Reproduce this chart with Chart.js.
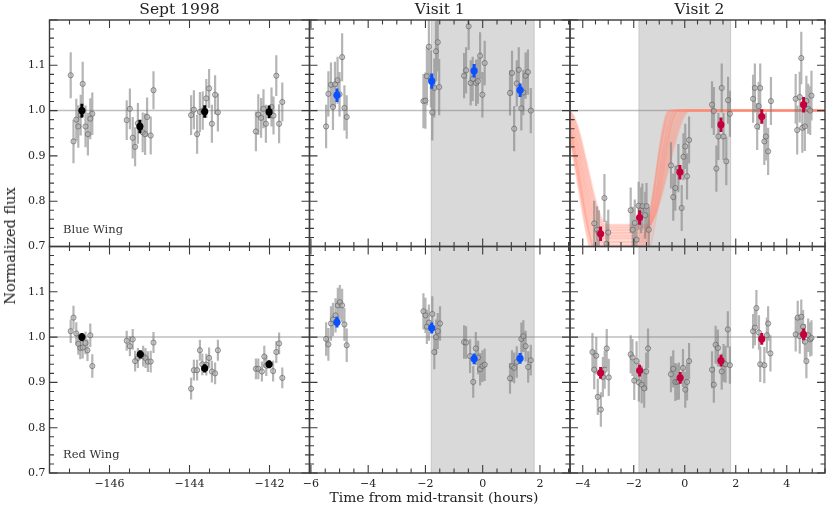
<!DOCTYPE html>
<html>
<head>
<meta charset="utf-8">
<script src="https://cdn.jsdelivr.net/npm/chart.js@4.4.1/dist/chart.umd.min.js"></script>
<style>
  body { margin: 0; background: #fff; }
  #fig { position: relative; width: 830px; height: 509px; font-family: "DejaVu Serif", serif; color: #222; }
  #fig canvas { position: absolute; left: 0; top: 0; }
  .txt { position: absolute; white-space: nowrap; }
  .title { top: 0; height: 18px; line-height: 18px; text-align: center; font-size: 15.5px; }
  .wing { font-size: 11.5px; color: #333; }
</style>
</head>
<body>
<div id="fig">
  <canvas id="c0" width="830" height="509"></canvas>
  <canvas id="c1" width="830" height="509"></canvas>
  <canvas id="c2" width="830" height="509"></canvas>
  <canvas id="c3" width="830" height="509"></canvas>
  <canvas id="c4" width="830" height="509"></canvas>
  <canvas id="c5" width="830" height="509"></canvas>
  <div class="txt title" style="left:49.5px;width:260px">Sept 1998</div>
  <div class="txt title" style="left:309.5px;width:260.5px">Visit 1</div>
  <div class="txt title" style="left:570px;width:259px">Visit 2</div>
  <div class="txt wing" style="left:63px;top:222px">Blue Wing</div>
  <div class="txt wing" style="left:63px;top:447px">Red Wing</div>
  <div class="txt" style="left:10px;top:246px;font-size:14.5px;transform:translate(-50%,-50%) rotate(-90deg)">Normalized flux</div>
  <div class="txt" style="left:434px;top:497px;font-size:13.8px;transform:translate(-50%,-50%)">Time from mid-transit (hours)</div>
</div>
<script>
// ---- Sept 1998, blue wing ----
const sepBlueX = [-146.97, -146.90, -146.83, -146.78, -146.72, -146.67, -146.60, -146.54, -146.48, -146.43,
  -145.57, -145.49, -145.42, -145.36, -145.29, -145.17, -145.11, -145.06, -144.97, -144.90,
  -143.96, -143.89, -143.81, -143.74, -143.67, -143.58, -143.51, -143.44, -143.36, -143.29,
  -142.34, -142.28, -142.21, -142.15, -142.09, -141.95, -141.90, -141.83, -141.76, -141.68];
const sepBlueY = [1.078, 0.932, 0.980, 0.965, 0.990, 1.059, 0.965, 0.948, 0.982, 0.993,
  0.979, 1.004, 0.940, 0.920, 0.972, 0.952, 0.948, 0.986, 0.945, 1.045,
  0.990, 1.002, 0.948, 0.997, 1.000, 1.027, 1.049, 0.971, 1.035, 0.996,
  0.954, 0.991, 0.984, 1.004, 0.971, 1.008, 0.989, 1.077, 0.971, 1.019];
const sepBlueErr = [0.051, 0.048, 0.046, 0.047, 0.045, 0.049, 0.046, 0.047, 0.045, 0.047,
  0.044, 0.045, 0.046, 0.043, 0.045, 0.044, 0.046, 0.043, 0.042, 0.042,
  0.044, 0.043, 0.043, 0.044, 0.042, 0.043, 0.043, 0.042, 0.043, 0.042,
  0.044, 0.045, 0.044, 0.043, 0.042, 0.043, 0.042, 0.045, 0.043, 0.043];
const sepBlueBinX = [-146.69, -145.24, -143.62, -142.01];
const sepBlueBinY = [1.000, 0.965, 0.998, 0.997];
const sepBlueBinErr = [0.015, 0.015, 0.014, 0.014];

// ---- Sept 1998, red wing ----
const sepRedX = [-146.97, -146.90, -146.83, -146.78, -146.73, -146.67, -146.60, -146.55, -146.48, -146.43,
  -145.57, -145.49, -145.42, -145.36, -145.29, -145.16, -145.10, -145.04, -144.97, -144.90,
  -143.96, -143.89, -143.81, -143.74, -143.68, -143.58, -143.51, -143.44, -143.36, -143.29,
  -142.34, -142.28, -142.19, -142.13, -142.08, -141.91, -141.83, -141.76, -141.68];
const sepRedY = [1.013, 1.043, 1.008, 0.985, 0.976, 0.977, 0.987, 0.971, 1.004, 0.936,
  0.992, 0.980, 0.995, 0.947, 0.954, 0.958, 0.954, 0.946, 0.946, 0.988,
  0.886, 0.927, 0.927, 0.971, 0.940, 0.939, 0.954, 0.924, 0.920, 0.971,
  0.930, 0.930, 0.924, 0.957, 0.937, 0.925, 0.967, 0.986, 0.910];
const sepRedErr = [0.026, 0.026, 0.025, 0.024, 0.025, 0.024, 0.025, 0.024, 0.026, 0.026,
  0.022, 0.022, 0.023, 0.023, 0.022, 0.023, 0.022, 0.023, 0.024, 0.023,
  0.024, 0.023, 0.023, 0.023, 0.024, 0.024, 0.023, 0.024, 0.024, 0.023,
  0.023, 0.023, 0.022, 0.024, 0.023, 0.023, 0.024, 0.024, 0.023];
const sepRedBinX = [-146.69, -145.23, -143.62, -142.01];
const sepRedBinY = [1.000, 0.962, 0.931, 0.940];
const sepRedBinErr = [0.009, 0.009, 0.009, 0.009];

// ---- Visit 1, blue wing ----
const v1BlueX = [-5.47, -5.39, -5.30, -5.23, -5.16, -5.07, -5.00, -4.91, -4.83, -4.75,
  -2.07, -2.00, -1.95, -1.88, -1.81, -1.76, -1.69, -1.63, -1.57, -1.52,
  -0.65, -0.58, -0.49, -0.42, -0.35, -0.23, -0.17, -0.09, -0.01, 0.07,
  0.955, 1.025, 1.10, 1.19, 1.26, 1.35, 1.42, 1.50, 1.58, 1.68];
const v1BlueY = [0.965, 1.037, 1.057, 1.008, 1.058, 1.067, 1.036, 1.118, 1.006, 0.986,
  1.021, 1.022, 1.076, 1.141, 1.070, 0.996, 1.050, 1.131, 1.151, 1.052,
  1.077, 1.089, 1.186, 1.061, 1.070, 1.061, 1.065, 1.121, 1.035, 1.105,
  1.039, 1.083, 0.960, 1.060, 1.090, 1.005, 1.040, 1.077, 1.085, 1.000];
const v1BlueErr = [0.048, 0.050, 0.049, 0.051, 0.050, 0.052, 0.049, 0.053, 0.050, 0.048,
  0.060, 0.062, 0.064, 0.066, 0.063, 0.062, 0.065, 0.066, 0.064, 0.062,
  0.050, 0.051, 0.052, 0.050, 0.049, 0.051, 0.050, 0.052, 0.050, 0.049,
  0.050, 0.049, 0.050, 0.051, 0.050, 0.049, 0.050, 0.051, 0.050, 0.050];
const v1BlueBinX = [-5.09, -1.78, -0.30, 1.305];
const v1BlueBinY = [1.034, 1.065, 1.088, 1.045];
const v1BlueBinErr = [0.015, 0.017, 0.015, 0.015];

// ---- Visit 1, red wing ----
const v1RedX = [-5.47, -5.39, -5.30, -5.23, -5.14, -5.06, -4.99, -4.91, -4.83, -4.75,
  -2.07, -2.00, -1.95, -1.88, -1.76, -1.69, -1.63, -1.57, -1.49,
  -0.65, -0.58, -0.44, -0.33, -0.24, -0.16, -0.09, -0.01, 0.07,
  0.955, 1.025, 1.10, 1.19, 1.35, 1.42, 1.50, 1.59, 1.68];
const v1RedY = [0.996, 0.984, 1.030, 1.039, 1.048, 1.070, 1.077, 1.070, 1.028, 0.982,
  1.057, 1.048, 1.023, 1.032, 1.051, 0.967, 1.000, 1.013, 1.030,
  0.989, 0.988, 0.958, 0.901, 0.975, 0.955, 0.929, 0.936, 0.939,
  0.909, 0.936, 0.932, 0.945, 0.996, 1.002, 0.980, 0.934, 0.949];
const v1RedErr = [0.037, 0.036, 0.038, 0.037, 0.038, 0.039, 0.038, 0.037, 0.036, 0.037,
  0.040, 0.039, 0.038, 0.040, 0.039, 0.038, 0.039, 0.040, 0.038,
  0.037, 0.036, 0.037, 0.035, 0.036, 0.037, 0.036, 0.035, 0.036,
  0.034, 0.035, 0.034, 0.035, 0.036, 0.035, 0.034, 0.035, 0.034];
const v1RedBinX = [-5.09, -1.78, -0.30, 1.305];
const v1RedBinY = [1.033, 1.020, 0.952, 0.953];
const v1RedBinErr = [0.012, 0.012, 0.012, 0.012];

// ---- Visit 2, blue wing ----
const v2BlueX = [-3.55, -3.44, -3.37, -3.15, -3.07, -3.00,
  -2.12, -2.04, -1.96, -1.89, -1.81, -1.71, -1.66, -1.55, -1.50, -1.41,
  -0.54, -0.45, -0.37, -0.25, -0.12, -0.05, 0.02, 0.09, 0.17,
  1.07, 1.14, 1.24, 1.32, 1.45, 1.52, 1.63, 1.70, 1.77,
  2.68, 2.75, 2.84, 2.90, 2.96, 3.12, 3.18, 3.27, 3.38,
  4.35, 4.41, 4.51, 4.57, 4.61, 4.71, 4.77, 4.84, 4.92, 4.97];
const v2BlueY = [0.751, 0.737, 0.730, 0.807, 0.706, 0.731,
  0.780, 0.737, 0.752, 0.715, 0.790, 0.780, 0.789, 0.769, 0.789, 0.737,
  0.879, 0.809, 0.829, 0.873, 0.785, 0.898, 0.921, 0.855, 0.935,
  1.013, 0.999, 0.872, 0.943, 1.050, 0.943, 0.888, 1.023, 0.993,
  1.026, 1.050, 0.965, 1.010, 1.050, 0.932, 0.943, 0.910, 1.021,
  1.026, 0.957, 1.030, 1.116, 0.962, 0.965, 1.021, 1.004, 1.000, 1.033];
const v2BlueErr = [0.050, 0.052, 0.050, 0.053, 0.051, 0.050,
  0.050, 0.051, 0.052, 0.050, 0.053, 0.051, 0.050, 0.052, 0.051, 0.050,
  0.051, 0.052, 0.050, 0.053, 0.051, 0.052, 0.050, 0.051, 0.052,
  0.052, 0.053, 0.051, 0.052, 0.054, 0.052, 0.053, 0.052, 0.051,
  0.053, 0.054, 0.052, 0.053, 0.054, 0.052, 0.053, 0.052, 0.053,
  0.055, 0.054, 0.056, 0.058, 0.055, 0.054, 0.056, 0.055, 0.054, 0.055];
const v2BlueBinX = [-3.30, -1.77, -0.19, 1.42, 3.02, 4.66];
const v2BlueBinY = [0.728, 0.764, 0.864, 0.969, 0.987, 1.013];
const v2BlueBinErr = [0.016, 0.016, 0.016, 0.016, 0.016, 0.017];

// ---- Visit 2, red wing ----
const v2RedX = [-3.62, -3.55, -3.47, -3.41, -3.29, -3.21, -3.14, -3.06, -2.98,
  -2.12, -2.05, -1.98, -1.89, -1.80, -1.69, -1.59, -1.51, -1.44,
  -0.54, -0.45, -0.37, -0.29, -0.23, -0.07, 0.02, 0.09, 0.17,
  1.07, 1.14, 1.21, 1.30, 1.45, 1.52, 1.60, 1.69, 1.77,
  2.68, 2.75, 2.81, 2.91, 2.96, 3.12, 3.22, 3.27, 3.36,
  4.35, 4.43, 4.51, 4.57, 4.64, 4.71, 4.77, 4.84, 4.92, 4.97];
const v2RedY = [0.967, 0.928, 0.959, 0.868, 0.840, 0.912, 0.928, 0.975, 0.911,
  0.962, 0.955, 0.904, 0.947, 0.900, 0.895, 0.887, 0.924, 0.975,
  0.918, 0.930, 0.901, 0.901, 0.903, 0.932, 0.884, 0.901, 0.947,
  0.928, 0.895, 0.983, 0.976, 0.924, 0.943, 0.940, 1.017, 0.938,
  1.013, 1.021, 1.064, 1.010, 0.940, 0.938, 1.004, 1.030, 0.964,
  1.006, 1.043, 1.002, 1.045, 1.023, 0.990, 0.947, 1.004, 0.995, 0.998];
const v2RedErr = [0.042, 0.043, 0.041, 0.040, 0.038, 0.044, 0.042, 0.043, 0.041,
  0.042, 0.041, 0.043, 0.044, 0.042, 0.041, 0.043, 0.042, 0.044,
  0.040, 0.041, 0.042, 0.040, 0.041, 0.042, 0.040, 0.041, 0.040,
  0.041, 0.040, 0.042, 0.041, 0.040, 0.042, 0.041, 0.040, 0.041,
  0.038, 0.039, 0.040, 0.038, 0.039, 0.040, 0.039, 0.038, 0.040,
  0.038, 0.037, 0.039, 0.038, 0.037, 0.039, 0.038, 0.037, 0.038, 0.039];
const v2RedBinX = [-3.30, -1.77, -0.18, 1.42, 3.02, 4.66];
const v2RedBinY = [0.921, 0.926, 0.910, 0.948, 0.996, 1.006];
const v2RedBinErr = [0.013, 0.013, 0.013, 0.013, 0.013, 0.013];

// transit model draws (visit 2 blue wing): knot times and depths.
// draws 0 and 1 are the outer edges of the band (latest / earliest), filled between.
const modelIngStart = [-4.55, -4.92, -4.60, -4.65, -4.70, -4.74, -4.78, -4.82, -4.86, -4.90, -4.88, -4.80];
const modelIngEnd   = [-3.05, -3.42, -3.10, -3.15, -3.20, -3.24, -3.28, -3.32, -3.36, -3.40, -3.40, -3.35];
const modelEgrStart = [-1.45, -1.78, -1.50, -1.55, -1.60, -1.65, -1.70, -1.75, -1.72, -1.68, -1.70, -1.62];
const modelEgrEnd   = [0.20, -0.62, 0.10, 0.00, -0.10, -0.22, -0.35, -0.50, -0.55, -0.42, -0.30, -0.25];
const modelDepth    = [0.748, 0.660, 0.742, 0.736, 0.730, 0.724, 0.718, 0.710, 0.702, 0.692, 0.680, 0.668];

// axes
const colEdges = [[49.5, 309.5], [309.5, 570], [570, 829]];
const rowEdges = [[20, 246.5], [246.5, 473]];
const xRanges = [[-147.5, -141], [-6.05, 3.05], [-4.5, 5.5]];
const xMajor = [[-146, -144, -142], [-6, -4, -2, 0, 2], [-4, -2, 0, 2, 4]];
const yRange = [0.7, 1.2];
const yMajor = [0.7, 0.8, 0.9, 1.0, 1.1, 1.2];
const yLabels = [0.7, 0.8, 0.9, 1.0, 1.1];
const transitHalf = 1.8; // shaded in-transit window, hours

const Y_W = 40, X_H = 22;
const ink = '#3b3b3b';

function steps(lo, hi, step) {
  const out = [];
  for (let v = Math.ceil(lo / step - 1e-6) * step; v <= hi + 1e-9; v += step) out.push(+v.toFixed(4));
  return out;
}

function toPts(xs, ys) {
  return xs.map((x, i) => ({ x: x, y: ys[i] }));
}

// shading, error bars, inward ticks and frame
const panelDeco = {
  id: 'panelDeco',
  beforeDatasetsDraw(chart, args, opts) {
    if (!opts.shade) return;
    const { ctx, chartArea: a, scales: { x } } = chart;
    const x0 = x.getPixelForValue(-transitHalf), x1 = x.getPixelForValue(transitHalf);
    ctx.save();
    ctx.fillStyle = 'rgba(128,128,128,0.3)';
    ctx.fillRect(x0, a.top, x1 - x0, a.bottom - a.top);
    ctx.strokeStyle = 'rgba(128,128,128,0.3)';
    ctx.lineWidth = 1;
    ctx.beginPath();
    ctx.moveTo(x0, a.top); ctx.lineTo(x0, a.bottom);
    ctx.moveTo(x1, a.top); ctx.lineTo(x1, a.bottom);
    ctx.stroke();
    ctx.restore();
  },
  beforeDatasetDraw(chart, args) {
    const ds = chart.data.datasets[args.index];
    if (!ds.errs) return;
    const { ctx, chartArea: a, scales: { x, y } } = chart;
    ctx.save();
    ctx.beginPath();
    ctx.rect(a.left, a.top, a.right - a.left, a.bottom - a.top);
    ctx.clip();
    ctx.strokeStyle = ds.errColor;
    ctx.lineWidth = ds.errWidth;
    ctx.beginPath();
    ds.data.forEach((p, i) => {
      const px = x.getPixelForValue(p.x);
      ctx.moveTo(px, y.getPixelForValue(p.y - ds.errs[i]));
      ctx.lineTo(px, y.getPixelForValue(p.y + ds.errs[i]));
    });
    ctx.stroke();
    ctx.restore();
  },
  afterDraw(chart, args, opts) {
    const { ctx, chartArea: a, scales: { x, y } } = chart;
    ctx.save();
    ctx.strokeStyle = ink;
    ctx.lineWidth = 1.1;
    ctx.beginPath();
    const tick = (vals, len, scale, vertical) => {
      vals.forEach(v => {
        const p = scale.getPixelForValue(v);
        if (vertical) {
          if (p < a.left - 0.5 || p > a.right + 0.5) return;
          ctx.moveTo(p, a.bottom); ctx.lineTo(p, a.bottom - len);
          ctx.moveTo(p, a.top); ctx.lineTo(p, a.top + len);
        } else {
          if (p < a.top - 0.5 || p > a.bottom + 0.5) return;
          ctx.moveTo(a.left, p); ctx.lineTo(a.left + len, p);
          ctx.moveTo(a.right, p); ctx.lineTo(a.right - len, p);
        }
      });
    };
    tick(opts.xMajor, 8, x, true);
    tick(opts.xMinor, 4.5, x, true);
    tick(yMajor, 8, y, false);
    tick(steps(yRange[0], yRange[1], 0.02), 4.5, y, false);
    ctx.stroke();
    ctx.lineWidth = 1.4;
    ctx.strokeRect(a.left, a.top, a.right - a.left, a.bottom - a.top);
    ctx.restore();
  }
};

const panels = [
  { col: 0, row: 0, xs: sepBlueX, ys: sepBlueY, es: sepBlueErr, bx: sepBlueBinX, by: sepBlueBinY, be: sepBlueBinErr, color: '#000000' },
  { col: 1, row: 0, xs: v1BlueX, ys: v1BlueY, es: v1BlueErr, bx: v1BlueBinX, by: v1BlueBinY, be: v1BlueBinErr, color: '#0a50ff' },
  { col: 2, row: 0, xs: v2BlueX, ys: v2BlueY, es: v2BlueErr, bx: v2BlueBinX, by: v2BlueBinY, be: v2BlueBinErr, color: '#c4003c', model: true },
  { col: 0, row: 1, xs: sepRedX, ys: sepRedY, es: sepRedErr, bx: sepRedBinX, by: sepRedBinY, be: sepRedBinErr, color: '#000000' },
  { col: 1, row: 1, xs: v1RedX, ys: v1RedY, es: v1RedErr, bx: v1RedBinX, by: v1RedBinY, be: v1RedBinErr, color: '#0a50ff' },
  { col: 2, row: 1, xs: v2RedX, ys: v2RedY, es: v2RedErr, bx: v2RedBinX, by: v2RedBinY, be: v2RedBinErr, color: '#c4003c' }
];

const tickFont = { family: 'DejaVu Serif', size: 11 };

panels.forEach((p, i) => {
  const [l, r] = colEdges[p.col];
  const [t, b] = rowEdges[p.row];
  const [xmin, xmax] = xRanges[p.col];

  const datasets = [
    {
      data: toPts(p.bx, p.by), errs: p.be, errColor: p.color, errWidth: 3,
      pointRadius: 3.6, backgroundColor: p.color, borderColor: p.color, borderWidth: 0, order: 0
    },
    {
      data: toPts(p.xs, p.ys), errs: p.es, errColor: 'rgba(120,120,120,0.55)', errWidth: 2.2,
      pointRadius: 2.6, backgroundColor: 'rgba(175,175,175,0.55)', borderColor: 'rgba(90,90,90,0.6)', borderWidth: 1, order: 1
    }
  ];

  if (p.model) {
    modelDepth.forEach((d, k) => {
      datasets.push({
        data: [
          { x: -6, y: 1 }, { x: modelIngStart[k], y: 1 }, { x: modelIngEnd[k], y: d },
          { x: modelEgrStart[k], y: d }, { x: modelEgrEnd[k], y: 1 }, { x: 6, y: 1 }
        ],
        showLine: true, cubicInterpolationMode: 'monotone', pointRadius: 0,
        fill: k === 0 ? '+1' : false,
        backgroundColor: 'rgba(255,150,130,0.32)',
        borderColor: 'rgba(255,135,115,0.28)', borderWidth: 2, order: 2
      });
    });
  }

  datasets.push({
    data: [{ x: xmin, y: 1 }, { x: xmax, y: 1 }],
    showLine: true, pointRadius: 0, borderColor: 'rgba(128,128,128,0.5)', borderWidth: 1.5, order: 3
  });

  new Chart(document.getElementById('c' + i), {
    type: 'scatter',
    data: { datasets: datasets },
    options: {
      responsive: false,
      animation: false,
      events: [],
      layout: { padding: { left: l - Y_W, right: 830 - r, top: t, bottom: 509 - b - X_H } },
      plugins: {
        legend: { display: false },
        tooltip: { enabled: false },
        panelDeco: {
          shade: p.col > 0,
          xMajor: xMajor[p.col],
          xMinor: steps(xmin, xmax, 0.5)
        }
      },
      scales: {
        x: {
          type: 'linear', position: 'bottom', min: xmin, max: xmax,
          grid: { display: false, drawTicks: false },
          border: { display: false },
          afterBuildTicks: s => { s.ticks = xMajor[p.col].map(v => ({ value: v })); },
          afterFit: s => { s.height = X_H; },
          ticks: {
            display: p.row === 1, autoSkip: false, maxRotation: 0, padding: 5,
            font: tickFont, color: '#222',
            callback: v => (v < 0 ? '\u2212' : '') + Math.abs(v)
          }
        },
        y: {
          type: 'linear', position: 'left', min: yRange[0], max: yRange[1],
          grid: { display: false, drawTicks: false },
          border: { display: false },
          afterBuildTicks: s => { s.ticks = yLabels.map(v => ({ value: v })); },
          afterFit: s => { s.width = Y_W; },
          ticks: {
            display: p.col === 0, autoSkip: false, padding: 4,
            font: tickFont, color: '#222',
            callback: v => v.toFixed(1)
          }
        }
      }
    },
    plugins: [panelDeco]
  });
});
</script>
</body>
</html>
